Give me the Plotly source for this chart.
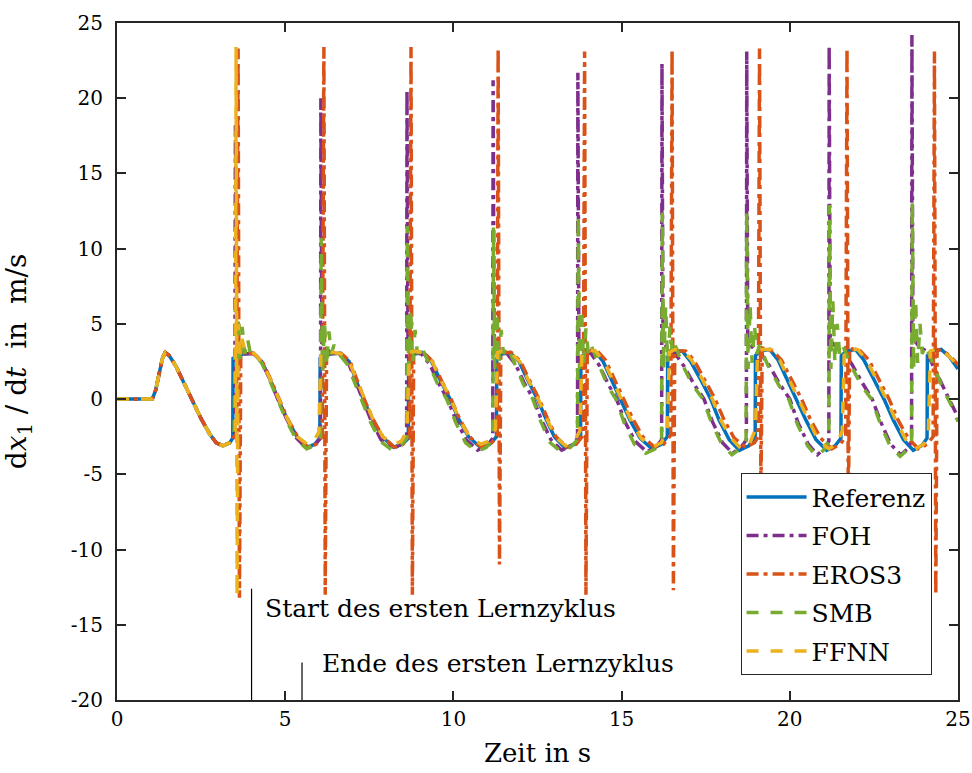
import plotly.graph_objects as go

# ---------------- data ----------------
ref_t = [0, 1.05, 1.15, 1.25, 1.35, 1.43, 1.55, 1.75, 2.0, 2.23, 2.5, 2.75, 2.95, 3.15, 3.35, 3.44,
         3.45, 3.75, 4.04, 4.3, 4.55, 4.79, 5.05, 5.35, 5.66, 5.88, 6.03,
         6.04, 6.35, 6.63, 6.9, 7.1, 7.32, 7.58, 7.88, 8.22, 8.48, 8.66,
         8.67, 8.85, 9.08, 9.35, 9.6, 9.9, 10.15, 10.45, 10.8, 11.08, 11.28,
         11.29, 11.45, 11.68, 11.95, 12.2, 12.5, 12.75, 13.0, 13.32, 13.6, 13.78,
         13.79, 13.95, 14.2, 14.45, 14.7, 14.98, 15.25, 15.55, 15.9, 16.18, 16.36,
         16.37, 16.55, 16.8, 17.05, 17.35, 17.65, 17.9, 18.2, 18.5, 18.78, 18.97,
         18.98, 19.15, 19.4, 19.65, 19.92, 20.2, 20.48, 20.78, 21.1, 21.35, 21.52,
         21.53, 21.7, 21.95, 22.2, 22.5, 22.8, 23.08, 23.38, 23.67, 23.92, 24.08,
         24.09, 24.25, 24.5, 24.75, 25.0]
ref_y = [0, 0, 0.6, 1.7, 2.7, 3.1, 2.9, 2.2, 1.0, 0, -1.3, -2.3, -2.9, -3.1, -2.9, -2.6,
         2.7, 3.0, 3.05, 2.5, 1.3, 0, -1.3, -2.5, -3.2, -3.0, -2.6,
         2.7, 3.0, 3.05, 2.5, 1.3, 0, -1.3, -2.5, -3.2, -3.0, -2.6,
         2.7, 3.0, 3.1, 2.5, 1.3, 0, -1.3, -2.5, -3.2, -3.0, -2.5,
         2.7, 3.0, 3.1, 2.5, 1.3, 0, -1.3, -2.5, -3.25, -3.0, -2.5,
         2.8, 3.1, 3.2, 2.5, 1.3, 0, -1.4, -2.6, -3.3, -3.0, -2.5,
         2.8, 3.1, 3.2, 2.5, 1.3, 0, -1.4, -2.7, -3.4, -3.1, -2.6,
         2.9, 3.2, 3.3, 2.6, 1.3, 0, -1.4, -2.7, -3.4, -3.1, -2.6,
         2.9, 3.2, 3.3, 2.6, 1.3, 0, -1.4, -2.7, -3.4, -3.1, -2.6,
         2.9, 3.2, 3.3, 2.8, 2.0]

foh_t = [0, 1.05, 1.15, 1.25, 1.35, 1.43, 1.55, 1.75, 2.0, 2.23, 2.5, 2.75, 2.95, 3.15, 3.35, 3.44,
         3.5, 3.52, 3.56, 3.8, 4.04, 4.3, 4.55, 4.78, 5.04, 5.34, 5.65, 5.9, 6.05,
         6.06, 6.09, 6.35, 6.6, 6.88, 7.08, 7.3, 7.55, 7.85, 8.2, 8.45, 8.61,
         8.62, 8.65, 8.85, 9.05, 9.3, 9.55, 9.82, 10.08, 10.38, 10.72, 11.0, 11.17,
         11.18, 11.21, 11.4, 11.6, 11.85, 12.1, 12.38, 12.62, 12.9, 13.22, 13.5, 13.69,
         13.7, 13.73, 13.9, 14.1, 14.35, 14.6, 14.85, 15.1, 15.4, 15.75, 16.02, 16.19,
         16.2, 16.23, 16.4, 16.6, 16.85, 17.15, 17.45, 17.7, 18.0, 18.3, 18.55, 18.71,
         18.72, 18.75, 18.95, 19.15, 19.4, 19.7, 20.0, 20.25, 20.55, 20.82, 21.02, 21.16,
         21.17, 21.2, 21.4, 21.6, 21.85, 22.15, 22.45, 22.72, 23.0, 23.3, 23.5, 23.62,
         23.63, 23.66, 23.85, 24.05, 24.3, 24.6, 24.8, 25.0]
foh_y = [0, 0, 0.6, 1.7, 2.7, 3.1, 2.9, 2.2, 1.0, 0, -1.3, -2.3, -2.9, -3.1, -2.9, -2.6,
         -2.5, 18.2, 3.5, 3.0, 3.05, 2.5, 1.3, 0, -1.3, -2.6, -3.3, -3.0, -2.6,
         20.0, 3.6, 3.1, 3.0, 2.4, 1.2, 0, -1.4, -2.7, -3.3, -3.0, -2.6,
         20.5, 3.7, 3.1, 3.0, 2.3, 1.1, 0, -1.4, -2.7, -3.4, -3.1, -2.6,
         21.2, 3.7, 3.2, 3.0, 2.3, 1.1, 0, -1.4, -2.7, -3.4, -3.1, -2.6,
         21.7, 3.7, 3.2, 3.0, 2.2, 1.0, 0, -1.5, -2.8, -3.5, -3.2, -2.7,
         22.3, 3.8, 3.3, 3.0, 2.2, 1.0, 0, -1.5, -2.9, -3.6, -3.2, -2.7,
         23.1, 3.8, 3.3, 3.0, 2.2, 1.0, 0, -1.6, -3.0, -3.7, -3.3, -2.8,
         23.5, 3.9, 3.4, 3.1, 2.3, 1.1, 0, -1.6, -3.0, -3.7, -3.3, -2.8,
         24.2, 4.0, 3.5, 3.2, 2.0, 0.6, -0.3, -1.2]

eros_t = [0, 1.05, 1.15, 1.25, 1.35, 1.43, 1.55, 1.75, 2.0, 2.23, 2.5, 2.75, 2.95, 3.15, 3.35, 3.44,
          3.55, 3.6, 3.64, 3.68, 3.85, 4.06, 4.32, 4.57, 4.81, 5.07, 5.37, 5.68, 5.92, 6.1,
          6.15, 6.19, 6.23, 6.4, 6.66, 6.93, 7.13, 7.35, 7.6, 7.9, 8.25, 8.5, 8.7,
          8.74, 8.78, 8.82, 8.95, 9.12, 9.38, 9.63, 9.93, 10.18, 10.48, 10.83, 11.1, 11.3,
          11.33, 11.37, 11.41, 11.55, 11.72, 12.0, 12.25, 12.55, 12.8, 13.05, 13.38, 13.65, 13.86,
          13.9, 13.94, 13.98, 14.1, 14.28, 14.52, 14.78, 15.06, 15.33, 15.63, 15.98, 16.25, 16.46,
          16.5, 16.54, 16.58, 16.7, 16.9, 17.15, 17.45, 17.78, 18.05, 18.35, 18.7, 18.95, 19.06,
          19.1, 19.14, 19.18, 19.3, 19.5, 19.75, 20.05, 20.35, 20.62, 20.92, 21.25, 21.5, 21.66,
          21.7, 21.74, 21.78, 21.9, 22.1, 22.35, 22.65, 22.95, 23.22, 23.52, 23.82, 24.08, 24.26,
          24.3, 24.34, 24.38, 24.55, 24.75, 25.0]
eros_y = [0, 0, 0.6, 1.7, 2.7, 3.1, 2.9, 2.2, 1.0, 0, -1.3, -2.3, -2.9, -3.1, -2.9, -2.6,
          -2.3, 23.3, -13.2, 3.2, 3.0, 3.05, 2.5, 1.3, 0, -1.3, -2.5, -3.2, -3.0, -2.5,
          23.4, -13.0, 3.2, 3.0, 3.05, 2.5, 1.3, 0, -1.3, -2.5, -3.2, -3.0, -2.5,
          23.4, -13.0, 3.2, 3.1, 3.1, 2.5, 1.3, 0, -1.3, -2.5, -3.2, -3.0, -2.5,
          23.3, -11.0, 3.2, 3.1, 3.1, 2.5, 1.3, 0, -1.3, -2.5, -3.2, -3.0, -2.4,
          23.1, -13.0, 3.3, 3.2, 3.2, 2.6, 1.4, 0, -1.3, -2.5, -3.2, -3.0, -2.4,
          23.2, -12.7, 3.3, 3.2, 3.2, 2.6, 1.4, 0, -1.4, -2.6, -3.2, -2.9, -2.5,
          23.3, -6.5, 3.4, 3.3, 3.2, 2.6, 1.3, 0, -1.4, -2.6, -3.3, -3.0, -2.5,
          23.3, -8.0, 3.4, 3.3, 3.2, 2.6, 1.3, 0, -1.4, -2.6, -3.3, -3.0, -2.5,
          23.1, -13.0, 3.3, 3.2, 2.9, 2.3]

smb_t = [0, 1.05, 1.15, 1.25, 1.35, 1.43, 1.55, 1.75, 2.0, 2.23, 2.5, 2.75, 2.95, 3.15, 3.35, 3.44,
         3.48, 3.52, 3.56, 3.61, 3.66, 3.72, 3.8, 3.88, 3.96, 4.1, 4.3, 4.55, 4.77, 5.03, 5.33, 5.64, 5.88, 6.05,
         6.07, 6.11, 6.17, 6.23, 6.3, 6.37, 6.45, 6.6, 6.85, 7.06, 7.28, 7.53, 7.83, 8.18, 8.44, 8.61,
         8.63, 8.67, 8.73, 8.79, 8.86, 8.93, 9.01, 9.15, 9.3, 9.53, 9.8, 10.06, 10.36, 10.7, 10.98, 11.17,
         11.19, 11.23, 11.29, 11.35, 11.42, 11.49, 11.57, 11.7, 11.85, 12.08, 12.36, 12.6, 12.88, 13.2, 13.48, 13.69,
         13.71, 13.75, 13.81, 13.87, 13.94, 14.01, 14.09, 14.2, 14.35, 14.58, 14.83, 15.08, 15.38, 15.72, 16.0, 16.19,
         16.21, 16.25, 16.31, 16.37, 16.44, 16.51, 16.59, 16.7, 16.85, 17.12, 17.42, 17.68, 17.98, 18.28, 18.53, 18.7,
         18.72, 18.76, 18.82, 18.88, 18.95, 19.02, 19.1, 19.2, 19.38, 19.68, 19.97, 20.23, 20.53, 20.8, 21.0, 21.16,
         21.18, 21.22, 21.28, 21.34, 21.41, 21.48, 21.56, 21.66, 21.85, 22.13, 22.43, 22.7, 22.98, 23.28, 23.48, 23.62,
         23.64, 23.68, 23.74, 23.8, 23.87, 23.94, 24.02, 24.12, 24.3, 24.55, 24.8, 25.0]
smb_y = [0, 0, 0.6, 1.7, 2.7, 3.1, 2.9, 2.2, 1.0, 0, -1.3, -2.3, -2.9, -3.1, -2.9, -2.6,
         -2.6, 7.0, 1.5, 5.5, 2.4, 4.8, 3.0, 4.0, 3.1, 3.0, 2.4, 1.2, 0, -1.4, -2.7, -3.3, -3.0, -2.6,
         10.7, 1.8, 5.0, 2.2, 4.5, 3.0, 3.6, 3.0, 2.3, 1.1, 0, -1.5, -2.8, -3.4, -3.1, -2.6,
         11.5, 2.0, 6.0, 2.4, 4.6, 3.0, 3.6, 3.0, 2.2, 1.0, 0, -1.5, -2.9, -3.5, -3.2, -2.7,
         11.4, 2.0, 5.8, 2.4, 4.6, 3.0, 3.5, 3.0, 2.2, 1.0, 0, -1.5, -2.9, -3.5, -3.2, -2.7,
         12.2, 2.0, 6.0, 2.4, 4.7, 3.0, 3.6, 3.0, 2.1, 0.9, 0, -1.6, -3.0, -3.6, -3.3, -2.7,
         12.4, 2.0, 6.2, 2.4, 4.8, 3.0, 3.6, 3.0, 2.1, 0.9, 0, -1.6, -3.0, -3.7, -3.3, -2.8,
         12.5, 2.0, 6.3, 2.4, 4.9, 3.0, 3.6, 3.0, 2.1, 0.9, 0, -1.7, -3.1, -3.8, -3.4, -2.8,
         12.9, 2.0, 6.5, 2.4, 5.0, 3.0, 3.6, 3.1, 2.1, 0.9, 0, -1.7, -3.1, -3.8, -3.4, -2.8,
         13.1, 2.0, 6.6, 2.4, 5.0, 3.0, 3.6, 3.1, 2.1, 0.7, -0.4, -1.5]

ffnn_t = [0, 1.05, 1.15, 1.25, 1.35, 1.43, 1.55, 1.75, 2.0, 2.23, 2.5, 2.75, 2.95, 3.15, 3.35, 3.44,
          3.52, 3.54, 3.57, 3.6, 3.66, 3.72, 3.8, 3.95, 4.04, 4.3, 4.56, 4.8, 5.06, 5.36, 5.66, 5.85, 6.0,
          6.06, 6.2, 6.45, 6.66, 6.92, 7.12, 7.34, 7.6, 7.9, 8.22, 8.45, 8.62,
          8.69, 8.85, 9.1, 9.37, 9.62, 9.92, 10.17, 10.47, 10.82, 11.05, 11.25,
          11.31, 11.45, 11.7, 11.97, 12.22, 12.52, 12.77, 13.02, 13.33, 13.6, 13.76,
          13.82, 13.98, 14.22, 14.48, 14.73, 15.01, 15.28, 15.58, 15.92, 16.18, 16.36,
          16.42, 16.58, 16.83, 17.08, 17.38, 17.7, 17.95, 18.25, 18.55, 18.8, 18.98,
          19.04, 19.2, 19.45, 19.7, 19.98, 20.26, 20.54, 20.84, 21.15, 21.4, 21.56,
          21.62, 21.78, 22.02, 22.28, 22.58, 22.87, 23.15, 23.45, 23.73, 23.98, 24.12,
          24.18, 24.32, 24.55, 24.8, 25.0]
ffnn_y = [0, 0, 0.6, 1.7, 2.7, 3.1, 2.9, 2.2, 1.0, 0, -1.3, -2.3, -2.9, -3.1, -2.9, -2.6,
          -2.0, 23.4, -13.1, 5.0, 3.0, 4.0, 3.2, 3.3, 3.1, 2.5, 1.3, 0, -1.3, -2.5, -3.0, -2.8, -2.2,
          3.0, 3.2, 3.1, 3.0, 2.4, 1.3, 0, -1.3, -2.5, -3.0, -2.8, -2.1,
          3.1, 3.2, 3.1, 2.5, 1.3, 0, -1.3, -2.5, -3.0, -2.8, -2.0,
          3.1, 3.2, 3.1, 2.5, 1.3, 0, -1.3, -2.5, -3.1, -2.8, -2.1,
          3.1, 3.3, 3.2, 2.5, 1.3, 0, -1.4, -2.6, -3.2, -2.9, -2.0,
          3.1, 3.3, 3.2, 2.6, 1.4, 0, -1.4, -2.6, -3.3, -3.0, -2.0,
          3.2, 3.3, 3.3, 2.6, 1.3, 0, -1.4, -2.7, -3.3, -3.0, -2.1,
          3.2, 3.3, 3.3, 2.6, 1.3, 0, -1.4, -2.7, -3.3, -3.0, -2.1,
          3.2, 3.3, 3.2, 2.7, 2.2]

series_names = ["Referenz", "FOH", "EROS3", "SMB", "FFNN"]

x_tickvals = [0, 5, 10, 15, 20, 25]
x_ticktext = ["0", "5", "10", "15", "20", "25"]
y_tickvals = [-20, -15, -10, -5, 0, 5, 10, 15, 20, 25]
y_ticktext = ["-20", "-15", "-10", "-5", "0", "5", "10", "15", "20", "25"]

start_marker_t = 4.0
end_marker_t = 5.5
start_label = "Start des ersten Lernzyklus"
end_label = "Ende des ersten Lernzyklus"

# ---------------- styles ----------------
FONT = "DejaVu Serif"
AX = "#262626"
styles = [
    dict(color="#0072BD", width=3.5, dash="solid"),
    dict(color="#7E2F8E", width=3.5, dash="12px,5px,4px,5px"),
    dict(color="#D95319", width=3.5, dash="12px,5px,4px,5px"),
    dict(color="#77AC30", width=3.5, dash="12px,12px"),
    dict(color="#EDB120", width=3.5, dash="12px,12px"),
]

data = [(ref_t, ref_y), (foh_t, foh_y), (eros_t, eros_y), (smb_t, smb_y), (ffnn_t, ffnn_y)]

fig = go.Figure()
for i, (name, (tx, ty), st) in enumerate(zip(series_names, data, styles)):
    fig.add_trace(go.Scatter(x=tx, y=ty, mode="lines", name=name, line=st,
                             legendgroup=f"g{i}"))

fig.update_layout(
    width=972, height=773,
    margin=dict(l=117, r=14, t=23, b=73),
    paper_bgcolor="white", plot_bgcolor="white",
    font=dict(family=FONT, size=20, color="black"),
    showlegend=True,
    legend=dict(x=0.855, y=0.335, xanchor="center", yanchor="top",
                bgcolor="white", bordercolor=AX, borderwidth=1,
                font=dict(family=FONT, size=25, color="black"),
                tracegroupgap=3, itemwidth=60),
)
fig.update_xaxes(range=[0, 25], tickvals=x_tickvals, ticktext=x_ticktext,
                 ticks="inside", ticklen=9, tickwidth=2, tickcolor=AX,
                 showline=True, linecolor=AX, linewidth=2, mirror="ticks",
                 showgrid=False, zeroline=False, automargin=False,
                 tickfont=dict(family=FONT, size=20, color="black"),
                 title=dict(text="Zeit in s", font=dict(family=FONT, size=26, color="black"),
                            standoff=14))
fig.update_yaxes(range=[-20, 25], tickvals=y_tickvals, ticktext=y_ticktext,
                 ticks="inside", ticklen=9, tickwidth=2, tickcolor=AX,
                 showline=True, linecolor=AX, linewidth=2, mirror="ticks",
                 showgrid=False, zeroline=False, automargin=False,
                 tickfont=dict(family=FONT, size=20, color="black"),
                 ticklabelstandoff=8,
                 title=dict(text="d<i>x</i><sub>1</sub> / d<i>t</i> &nbsp;in&nbsp; m/s",
                            font=dict(family=FONT, size=28, color="black"), standoff=40))

# marker lines for learning cycle
fig.add_shape(type="line", xref="x", yref="y", x0=start_marker_t, x1=start_marker_t,
              y0=-20, y1=-12.6, line=dict(color="black", width=1.2))
fig.add_shape(type="line", xref="x", yref="y", x0=end_marker_t, x1=end_marker_t,
              y0=-20, y1=-17.5, line=dict(color="black", width=1.2))
fig.add_annotation(x=start_marker_t + 0.34, y=-13.9, xref="x", yref="y", text=start_label,
                   showarrow=False, xanchor="left", yanchor="middle",
                   font=dict(family=FONT, size=25, color="black"))
fig.add_annotation(x=end_marker_t + 0.53, y=-17.6, xref="x", yref="y", text=end_label,
                   showarrow=False, xanchor="left", yanchor="middle",
                   font=dict(family=FONT, size=25, color="black"))

fig.write_html("out.html")
